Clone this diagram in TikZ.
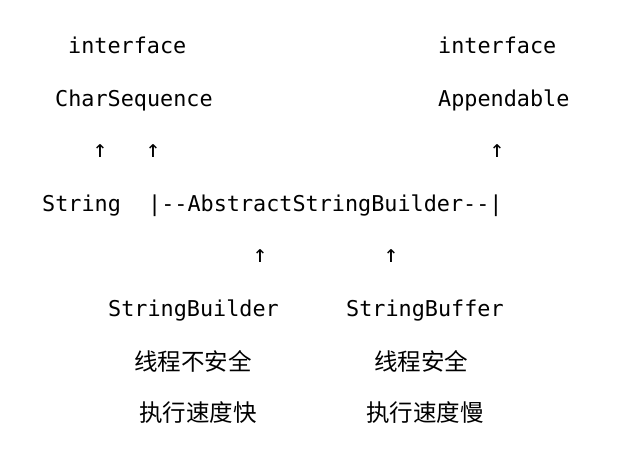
\documentclass[tikz,border=0pt]{standalone}
\usepackage{fontspec}
\setmonofont{DejaVu Sans Mono}
\newfontfamily\cjk{Noto Sans CJK SC}
\tikzset{
  code/.style={inner sep=0pt, anchor=base west, font=\ttfamily\fontsize{21.8pt}{24pt}\selectfont, text=black},
  arr/.style={inner sep=0pt, anchor=center, font=\ttfamily\fontsize{24pt}{26pt}\selectfont, text=black},
  zh/.style={inner sep=0pt, anchor=center, font=\cjk\fontsize{23.5pt}{26pt}\selectfont, text=black}
}
\begin{document}
\begin{tikzpicture}[x=1pt,y=1pt]
\useasboundingbox (0,0) rectangle (622,-450);
\node[code] (i1) at (68,-53) {interface};
\node[code] (cs) at (55,-106) {CharSequence};
\node[code] (i2) at (438,-53) {interface};
\node[code] (ap) at (438,-106) {Appendable};
\node[arr] (a1) at (100,-151) {↑};
\node[arr] (a2) at (153,-151) {↑};
\node[arr] (a3) at (497,-151) {↑};
\node[code] (str) at (42,-211) {String};
\node[code] (asb) at (148,-211) {|--AbstractStringBuilder--|};
\node[arr] (a4) at (260,-256) {↑};
\node[arr] (a5) at (391,-256) {↑};
\node[code] (sbd) at (108,-316) {StringBuilder};
\node[code] (sbf) at (346,-316) {StringBuffer};
\node[zh] (z1) at (193,-361) {线程不安全};
\node[zh] (z2) at (421,-361) {线程安全};
\node[zh] (z3) at (198,-413) {执行速度快};
\node[zh] (z4) at (425,-413) {执行速度慢};
\end{tikzpicture}
\end{document}
